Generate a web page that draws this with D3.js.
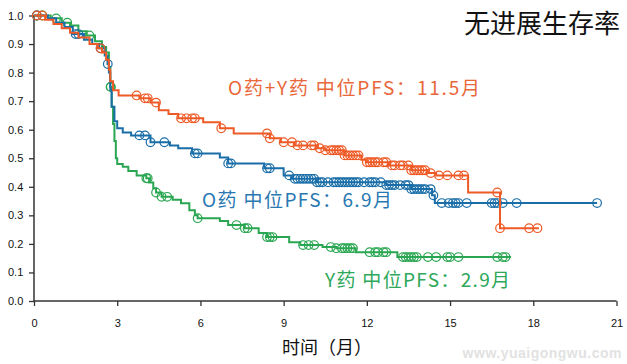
<!DOCTYPE html>
<html><head><meta charset="utf-8">
<script src="https://cdn.jsdelivr.net/npm/d3@7"></script>
<style>html,body{margin:0;padding:0;background:#fff;}svg{display:block;}</style>
</head><body><svg id="c" width="627" height="364"></svg>
<script>
// ---- data ----
const xTicks = [0, 3, 6, 9, 12, 15, 18, 21];
const yTicks = [0, 0.1, 0.2, 0.3, 0.4, 0.5, 0.6, 0.7, 0.8, 0.9, 1.0];

const oyTimes = [0,0.4,0.7,1.0,1.3,1.6,2.0,2.3,2.45,2.6,2.7,2.75,2.85,3.05,3.8,4.2,4.5,4.85,5.2,6.1,6.7,7.2,8.5,8.9,9.4,10.2,10.5,11.2,11.8,12.0,12.8,13.6,14.2,14.5,15.65,16.8,18.2];
const oySurv  = [1.0,0.985,0.97,0.955,0.94,0.923,0.90,0.885,0.87,0.845,0.81,0.77,0.738,0.72,0.71,0.695,0.668,0.655,0.64,0.626,0.605,0.587,0.57,0.556,0.545,0.535,0.528,0.51,0.495,0.486,0.475,0.458,0.448,0.44,0.38,0.255,0.255];
const oyCensor = [0.1,0.3,2.4,3.7,4.0,4.1,4.4,5.3,5.5,5.7,5.8,6.75,8.4,8.5,9.0,9.3,9.5,9.7,10.0,10.1,10.3,10.5,10.7,10.8,10.9,11.0,11.1,11.2,11.3,11.4,11.5,11.6,11.7,12.0,12.1,12.2,12.3,12.4,12.6,12.7,12.9,13.0,13.2,13.3,13.5,13.6,13.7,13.8,13.9,14.0,14.1,14.3,14.6,14.9,15.3,15.5,16.7,16.8,17.85,18.15];

const oTimes = [0,0.5,0.8,1.1,1.4,1.8,2.1,2.35,2.55,2.65,2.7,2.75,2.8,2.9,3.0,3.2,3.5,4.2,4.9,5.2,5.7,6.7,7.0,8.3,9.0,9.3,10.2,12.7,13.6,14.35,14.45,20.3];
const oSurv  = [1.0,0.99,0.975,0.96,0.935,0.915,0.9,0.885,0.86,0.83,0.80,0.74,0.68,0.63,0.605,0.59,0.58,0.556,0.545,0.535,0.517,0.503,0.482,0.465,0.44,0.428,0.416,0.406,0.392,0.37,0.343,0.343];
const oCensor = [0.1,1.5,1.6,2.4,2.66,3.8,4.0,4.2,4.7,5.8,5.9,7.0,7.1,8.4,8.5,9.2,9.4,9.5,9.6,9.7,9.8,9.9,10.0,10.1,10.2,10.3,10.4,10.6,10.8,10.9,11.0,11.1,11.2,11.3,11.4,11.5,11.6,11.7,11.9,12.1,12.2,12.3,12.5,12.7,12.8,12.9,13.0,13.2,13.4,13.5,13.6,13.7,13.8,13.9,14.0,14.1,14.3,14.4,14.7,14.95,15.1,15.2,15.3,15.6,16.5,16.6,16.7,16.9,17.4,20.3];

const yTimes = [0,0.6,1.0,1.3,1.6,1.9,2.2,2.45,2.6,2.7,2.75,2.8,2.85,2.9,2.95,3.0,3.2,3.4,3.7,4.05,4.15,4.3,4.4,4.6,5.0,5.3,5.6,5.8,5.9,6.7,7.0,7.6,8.1,8.4,9.2,9.6,10.4,10.9,11.6,13.1,17.2];
const ySurv  = [1.0,0.99,0.975,0.965,0.945,0.93,0.91,0.89,0.87,0.82,0.75,0.68,0.62,0.56,0.5,0.48,0.47,0.455,0.44,0.43,0.415,0.395,0.38,0.365,0.355,0.342,0.318,0.30,0.29,0.28,0.266,0.255,0.238,0.224,0.206,0.196,0.189,0.185,0.171,0.154,0.154];
const yCensor = [0.1,0.3,0.8,1.2,2.0,2.76,2.77,4.05,4.1,4.4,4.6,4.8,5.9,7.3,7.6,7.7,8.4,8.5,8.6,9.7,9.9,10.1,10.7,10.9,11.1,11.2,11.3,11.4,11.5,12.1,12.3,12.4,12.6,12.7,13.3,13.4,13.5,13.6,13.7,13.8,14.2,14.5,14.9,15.0,15.3,16.7,16.9,17.0];

const seriesNames = ["Y药", "O药", "O药+Y药"];
const seriesColors = ["#2aa652", "#1a6ea8", "#ee5a26"];
const labelColors = ["#2ea85a", "#2a78b2", "#e8683a"];
const labelTexts = ["Y药 中位PFS：2.9月", "O药 中位PFS：6.9月", "O药+Y药 中位PFS：11.5月"];

// ---- chart ----
const svg = d3.select("#c");
const x = d3.scaleLinear().domain([0, 21]).range([34, 616.5]);
const y = d3.scaleLinear().domain([0, 1]).range([301, 15.5]);

// watermark
svg.append("text").attr("x", 622).attr("y", 358).attr("text-anchor", "end")
  .attr("font-family", "Liberation Sans, Arial, sans-serif").attr("font-weight", "bold")
  .attr("font-size", 14).attr("fill", "#e2e2e2").attr("letter-spacing", 0.5).text("www.yuaigongwu.com");

const xAxis = d3.axisBottom(x).tickValues(xTicks).tickSize(5).tickFormat(d3.format("d"));
const yAxis = d3.axisLeft(y).tickValues(yTicks).tickSize(5).tickFormat(d3.format(".1f"));

const gx = svg.append("g").attr("transform", "translate(0,301)").call(xAxis);
const gy = svg.append("g").attr("transform", "translate(34,0)").call(yAxis);
[gx, gy].forEach(g => {
  g.select(".domain").attr("stroke", "#333").attr("stroke-width", 1.5);
  g.selectAll(".tick line").attr("stroke", "#333").attr("stroke-width", 1.3);
  g.selectAll("text").attr("font-family", "Liberation Sans, Arial, sans-serif").attr("font-size", 11).attr("fill", "#111");
});
gx.selectAll("text").attr("dy", "1.6em");
gy.selectAll("text").attr("dx", "-0.25em");
gx.select(".domain").attr("d", "M34,0H616.5");
gy.select(".domain").attr("d", "M0,301V15.5");

const series = [
  {times: yTimes, surv: ySurv, censor: yCensor},
  {times: oTimes, surv: oSurv, censor: oCensor},
  {times: oyTimes, surv: oySurv, censor: oyCensor}
];

const line = d3.line().x(d => x(d[0])).y(d => y(d[1])).curve(d3.curveStepAfter);
function survAt(s, t) {
  let v = s.surv[0];
  for (let i = 0; i < s.times.length; i++) { if (s.times[i] <= t) v = s.surv[i]; }
  return v;
}

series.forEach((s, i) => {
  const pts = s.times.map((t, j) => [t, s.surv[j]]);
  const g = svg.append("g");
  g.append("path").attr("d", line(pts)).attr("fill", "none")
    .attr("stroke", seriesColors[i]).attr("stroke-width", 2);
  g.selectAll("circle").data(s.censor).join("circle")
    .attr("cx", t => x(t)).attr("cy", t => y(survAt(s, t))).attr("r", 4.3)
    .attr("fill", "none").attr("stroke", seriesColors[i]).attr("stroke-width", 1.2);
});

const cjk = "'Noto Sans CJK SC', 'Noto Sans', sans-serif";
const labelPos = [[325, 287], [202, 207], [228, 95]];
const labelLen = [185, 190, 252];
labelTexts.forEach((t, i) => {
  svg.append("text").attr("x", labelPos[i][0]).attr("y", labelPos[i][1])
    .attr("font-family", cjk).attr("font-size", 19).attr("fill", labelColors[i])
    .attr("textLength", labelLen[i]).attr("lengthAdjust", "spacing").text(t);
});

svg.append("text").attr("x", 620).attr("y", 33).attr("text-anchor", "end")
  .attr("font-family", cjk).attr("font-size", 26).attr("fill", "#111").text("无进展生存率");

svg.append("text").attr("x", 327).attr("y", 354).attr("text-anchor", "middle")
  .attr("font-family", cjk).attr("font-size", 18).attr("fill", "#111").text("时间（月）");
</script></body></html>
